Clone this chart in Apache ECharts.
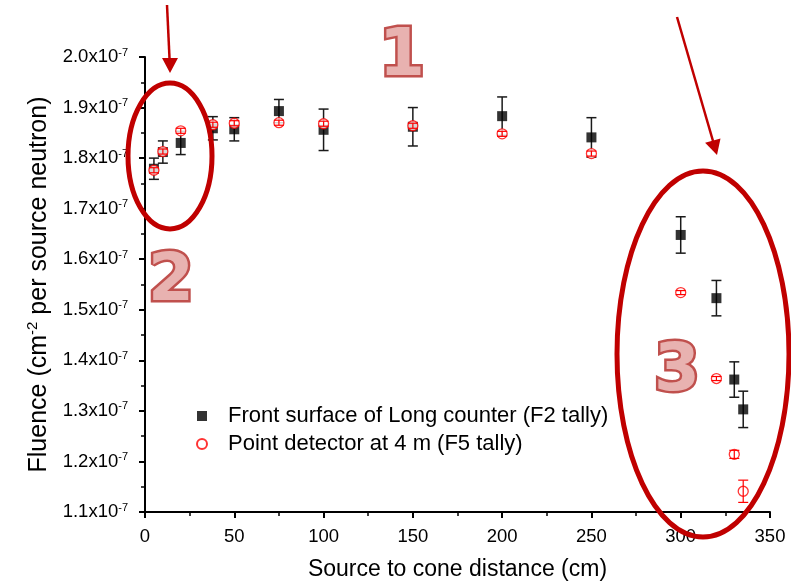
<!DOCTYPE html>
<html>
<head>
<meta charset="utf-8">
<script src="https://cdn.jsdelivr.net/npm/echarts@6/dist/echarts.min.js"></script>
<style>
  html, body { margin: 0; padding: 0; background: #fff; }
  #box { width: 791px; height: 586px; }
</style>
</head>
<body>
<div id="box"></div>
<script>
// values are in units of 1e-7 (cm^-2 per source neutron)
var distance = [5, 10, 20, 38, 50, 75, 100, 150, 200, 250, 300, 320, 330, 335];
var fluenceF2 = [1.779, 1.812, 1.830, 1.859, 1.857, 1.893, 1.856, 1.862, 1.883, 1.841, 1.648, 1.523, 1.362, 1.303];
var errorF2 = [0.021, 0.022, 0.023, 0.023, 0.023, 0.023, 0.041, 0.038, 0.038, 0.039, 0.036, 0.035, 0.035, 0.036];
var fluenceF5 = [1.776, 1.813, 1.854, 1.866, 1.869, 1.870, 1.868, 1.864, 1.848, 1.809, 1.534, 1.364, 1.214, 1.141];
var errorF5 = [0.005, 0.005, 0.005, 0.005, 0.005, 0.005, 0.005, 0.005, 0.005, 0.005, 0.004, 0.004, 0.008, 0.022];
var yTicks = [1.1, 1.2, 1.3, 1.4, 1.5, 1.6, 1.7, 1.8, 1.9, 2.0];
var nameF2 = 'Front surface of Long counter (F2 tally)';
var nameF5 = 'Point detector at 4 m (F5 tally)';

var FONT = '"Liberation Sans", Arial, sans-serif';
var DARKRED = '#c00000';

function errorBars(color, width) {
  return function (params, api) {
    var x = api.value(0), y = api.value(1), e = api.value(2);
    var top = api.coord([x, y + e]);
    var bot = api.coord([x, y - e]);
    var hw = 5;
    var st = { stroke: color, lineWidth: width };
    return {
      type: 'group',
      children: [
        { type: 'line', shape: { x1: top[0], y1: top[1], x2: bot[0], y2: bot[1] }, style: st },
        { type: 'line', shape: { x1: top[0] - hw, y1: top[1], x2: top[0] + hw, y2: top[1] }, style: st },
        { type: 'line', shape: { x1: bot[0] - hw, y1: bot[1], x2: bot[0] + hw, y2: bot[1] }, style: st }
      ]
    };
  };
}

function bigNumber(txt, x, y) {
  return {
    type: 'text', x: x, y: y, z: 100,
    style: {
      text: txt, fill: '#e8b2b0', stroke: '#c0504d', lineWidth: 5,
      font: 'bold 66px "DejaVu Sans", sans-serif',
      textAlign: 'center', textVerticalAlign: 'middle'
    }
  };
}

var chart = echarts.init(document.getElementById('box'));
var option = {
  animation: false,
  backgroundColor: '#fff',
  grid: { left: 145, right: 21, top: 57, bottom: 72, containLabel: false },
  legend: {
    orient: 'vertical', left: 191, top: 398, itemGap: 2,
    itemWidth: 10, itemHeight: 10,
    textStyle: { fontFamily: FONT, fontSize: 22, color: '#000', lineHeight: 26, padding: [0, 0, 0, 16] },
    data: [{ name: nameF2, icon: 'rect' }, { name: nameF5, icon: 'circle' }]
  },
  xAxis: {
    type: 'value', min: 0, max: 350, interval: 50,
    name: 'Source to cone distance (cm)', nameLocation: 'middle', nameGap: 46,
    nameTextStyle: { fontFamily: FONT, fontSize: 23, color: '#000' },
    axisLine: { lineStyle: { color: '#000', width: 2 } },
    axisTick: { length: 6, lineStyle: { color: '#000', width: 2 } },
    minorTick: { show: true, splitNumber: 2, length: 4, lineStyle: { color: '#000', width: 1.5 } },
    splitLine: { show: false },
    axisLabel: { fontFamily: FONT, fontSize: 18.5, color: '#000', margin: 15 }
  },
  yAxis: {
    type: 'value', min: 1.1, max: 2.0, interval: 0.1,
    name: '{a|Fluence (cm}{s|-2}{a| per source neutron)}',
    nameLocation: 'middle', nameGap: 88, nameRotate: 90,
    nameTextStyle: {
      fontFamily: FONT, color: '#000',
      rich: {
        a: { fontFamily: FONT, fontSize: 25, color: '#000', lineHeight: 28 },
        s: { fontFamily: FONT, fontSize: 15, color: '#000', lineHeight: 15, verticalAlign: 'top' }
      }
    },
    axisLine: { show: true, lineStyle: { color: '#000', width: 2 } },
    axisTick: { show: true, length: 6, lineStyle: { color: '#000', width: 2 } },
    minorTick: { show: true, splitNumber: 2, length: 4, lineStyle: { color: '#000', width: 1.5 } },
    splitLine: { show: false },
    axisLabel: {
      margin: 17,
      formatter: function (v) {
        var t = yTicks.reduce(function (b, c) { return Math.abs(c - v) < Math.abs(b - v) ? c : b; });
        return '{a|' + t.toFixed(1) + 'x10}{s|-7}';
      },
      rich: {
        a: { fontFamily: FONT, fontSize: 18.5, color: '#000', lineHeight: 20 },
        s: { fontFamily: FONT, fontSize: 11, color: '#000', lineHeight: 11, verticalAlign: 'top' }
      }
    }
  },
  series: [
    {
      name: nameF2 + ' err', type: 'custom', z: 1, silent: true,
      renderItem: errorBars('#1a1a1a', 1.5),
      encode: { x: 0, y: 1 },
      data: distance.map(function (d, i) { return [d, fluenceF2[i], errorF2[i]]; })
    },
    {
      name: nameF2, type: 'scatter', z: 2,
      symbol: 'rect', symbolSize: 10,
      itemStyle: { color: '#000' },
      data: distance.map(function (d, i) { return [d, fluenceF2[i]]; })
    },
    {
      name: nameF5, type: 'scatter', z: 3,
      symbol: 'circle', symbolSize: 10,
      itemStyle: { color: '#fff', borderColor: '#ff0000', borderWidth: 1.3 },
      data: distance.map(function (d, i) { return [d, fluenceF5[i]]; })
    },
    {
      name: nameF5 + ' err', type: 'custom', z: 4, silent: true,
      renderItem: errorBars('#ff0000', 1.2),
      encode: { x: 0, y: 1 },
      data: distance.map(function (d, i) { return [d, fluenceF5[i], errorF5[i]]; })
    }
  ],
  graphic: [
    // region ellipses
    { type: 'ellipse', z: 90, shape: { cx: 170, cy: 156, rx: 42, ry: 73 },
      style: { fill: 'none', stroke: DARKRED, lineWidth: 5 } },
    { type: 'ellipse', z: 90, shape: { cx: 703, cy: 354, rx: 86, ry: 183 },
      style: { fill: 'none', stroke: DARKRED, lineWidth: 5 } },
    // arrows
    { type: 'line', z: 90, shape: { x1: 167, y1: 5, x2: 169.6, y2: 60 },
      style: { stroke: DARKRED, lineWidth: 2.5 } },
    { type: 'polygon', z: 90, shape: { points: [[170, 73], [162, 58], [178, 58]] },
      style: { fill: DARKRED } },
    { type: 'line', z: 90, shape: { x1: 677, y1: 17, x2: 713, y2: 141 },
      style: { stroke: DARKRED, lineWidth: 2.5 } },
    { type: 'polygon', z: 90, shape: { points: [[717, 155], [720.5, 138.4], [705.1, 142.8]] },
      style: { fill: DARKRED } },
    // region numbers
    bigNumber('1', 402, 58),
    bigNumber('2', 171, 283),
    bigNumber('3', 677, 373)
  ]
};
chart.setOption(option);
</script>
</body>
</html>
